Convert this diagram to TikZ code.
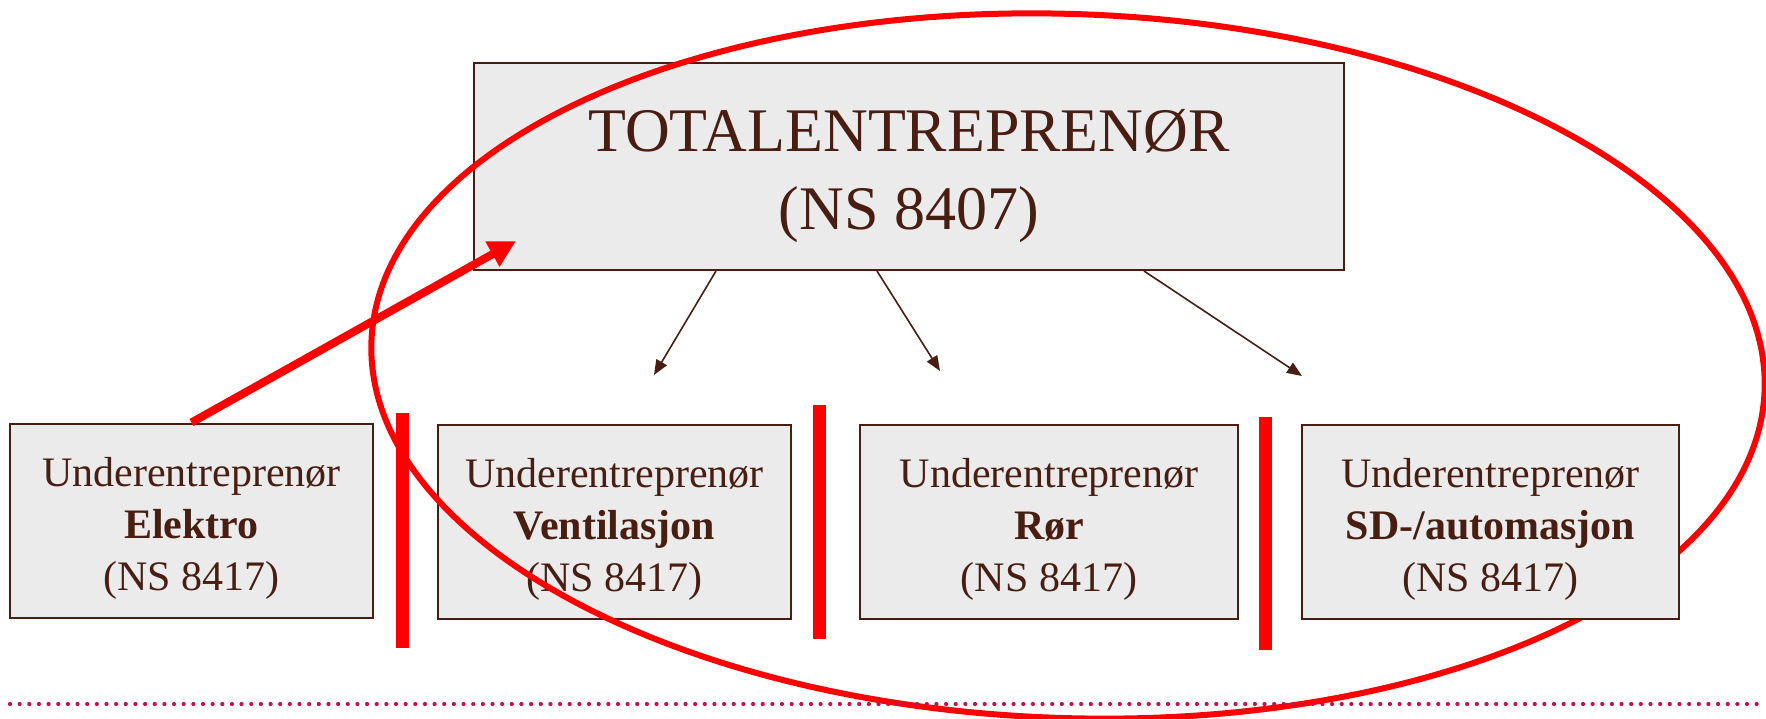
\documentclass[tikz,border=0pt]{standalone}
\usepackage{fontspec}
\setmainfont{Liberation Serif}
\usetikzlibrary{arrows.meta}
\definecolor{darkbrown}{RGB}{72,30,18}
\definecolor{boxgray}{RGB}{235,235,235}
\definecolor{dotred}{RGB}{196,18,72}
\newcommand{\ue}{\rule{0pt}{44.7pt}Underentreprenør}

\begin{document}
\begin{tikzpicture}[x=1pt,y=-1pt,
   box/.style={draw=darkbrown,fill=boxgray,line width=2pt,text=darkbrown,align=center,
      inner sep=0pt,font=\fontsize{42}{52}\selectfont,minimum height=194pt},
   down/.style={darkbrown,line width=1.6pt,-{Triangle[length=15pt,width=12pt]}},
   ring/.style={red,line width=6pt},
   redbar/.style={red,line width=13pt},
   bigarrow/.style={red,line width=8pt,-{Triangle[length=27pt,width=27pt]}},
   dots/.style={dotred,line width=4.2pt,line cap=round,dash pattern=on 0pt off 9.65pt}]
   \useasboundingbox (0,0) rectangle (1766,719);
   % boxes
   \node[box,font=\fontsize{62}{78}\selectfont,minimum width=870pt,minimum height=207pt] (total) at (909,166.5) {\rule{0pt}{60.6pt}TOTALENTREPRENØR\\(NS 8407)};
   \node[box,minimum width=363pt] (elektro) at (191.5,520.5) {\ue\\\textbf{Elektro}\\(NS 8417)};
   \node[box,minimum width=353pt] (vent) at (614.5,521.5) {\ue\\\textbf{Ventilasjon}\\(NS 8417)};
   \node[box,minimum width=378pt] (ror) at (1049,521.5) {\ue\\\textbf{Rør}\\(NS 8417)};
   % arrows down
   \coordinate (tipvent) at (654,375);
   \coordinate (tipror) at (940,371);
   \coordinate (tipsd) at (1302,376);
   \draw[down] ([xshift=-193pt]total.south) -- (tipvent);
   \draw[down] ([xshift=-32pt]total.south) -- (tipror);
   \draw[down] ([xshift=235pt]total.south) -- (tipsd);
   % ring
   \draw[ring,rotate around={-2:(1068,366)}] (1068,366) ellipse [x radius=697, y radius=352];
   \node[box,minimum width=377pt] (sd) at (1490.5,521.5) {\ue\\\textbf{SD-/automasjon}\\(NS 8417)};
   % bars
   \draw[redbar] (402,413) -- (402,648);
   \draw[redbar] (819,405) -- (819,639);
   \draw[redbar] (1265,417) -- (1265,650);
   \coordinate (hit) at (516,241);
   \draw[bigarrow] (elektro.north) -- (hit);
   \draw[dots] (10,704) -- (1766,704);
\end{tikzpicture}
\end{document}
